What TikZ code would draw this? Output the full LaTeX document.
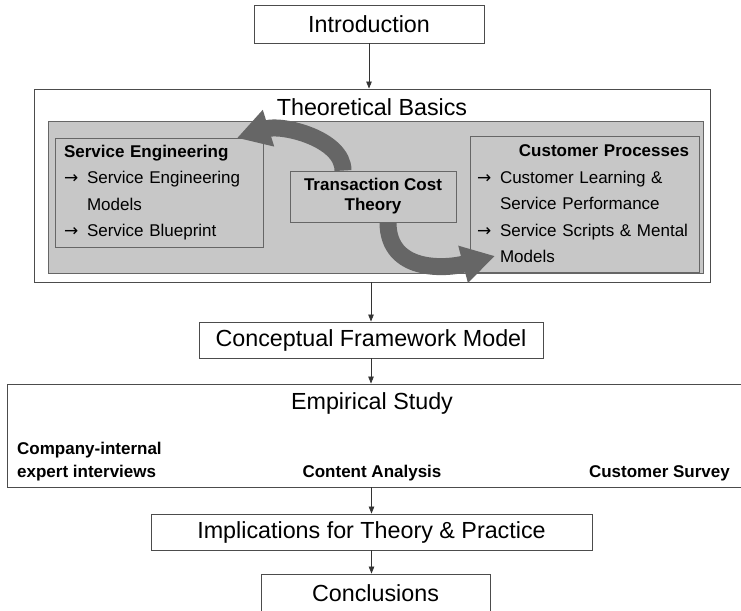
\documentclass[tikz,border=0pt]{standalone}
\usepackage{fontspec}
\setmainfont{Liberation Sans}
\newfontfamily\symfont{DejaVu Sans}
\usetikzlibrary{arrows.meta,positioning,fit}

\newcommand\headsize{\fontsize{23.3}{28}\selectfont}
\newcommand\itemsize{\fontsize{17}{26.5}\selectfont}
\newcommand\ra{\makebox[23pt][l]{\symfont →}}
\newcommand\ind{\hspace*{23pt}}

\tikzset{
     stage/.style = { draw=black!70, line width=0.9pt, fill=white, inner sep=0pt,
                      font=\headsize, align=center },
     panel/.style = { draw=black!60, line width=0.9pt, fill=black!22, inner sep=0pt },
  panelbox/.style = { panel, font=\itemsize, align=left },
     label/.style = { font=\itemsize\bfseries, inner sep=0pt },
      link/.style = { draw=black!80, line width=0.8pt, -{Triangle[length=7pt,width=5.5pt]} },
     swing/.style = { draw=black!60, line width=17pt, -{Triangle[length=33pt,width=36pt]} }
}

\begin{document}
\begin{tikzpicture}[x=1pt, y=-1pt]
  \useasboundingbox (0,0) rectangle (741,610);

  % main stages
  \node[stage, minimum width=230pt, minimum height=38pt] (intro) at (369,24) {Introduction};

  \node[stage, minimum width=676pt, minimum height=193pt] (basics) at (372,185.5) {};
  \node[font=\headsize, inner sep=0pt] (basicstitle) at (372,107) {Theoretical Basics};
  \node[panel, minimum width=655pt, minimum height=152pt] (theory) at (375.5,197) {};

  \node[panelbox, minimum width=208pt, minimum height=109pt, inner xsep=9pt, text width=190pt]
    (engineering) at (159,192.5)
    {\textbf{Service Engineering}\\
     \ra Service Engineering\\
     \ind Models\\
     \ra Service Blueprint};
  \node[panel, minimum width=166pt, minimum height=51pt, align=center,
        font=\fontsize{17}{20}\selectfont\bfseries]
    (transaction) at (373,196.5) {Transaction Cost\\Theory};
  \node[panelbox, minimum width=229pt, minimum height=136pt, inner xsep=7pt, text width=215pt]
    (customer) at (584.5,204)
    {\makebox[\linewidth][r]{\bfseries Customer Processes\hspace{3pt}}\\
     \ra Customer Learning \&\\
     \ind Service Performance\\
     \ra Service Scripts \& Mental\\
     \ind Models};

  \node[stage, minimum width=344pt, minimum height=36pt] (framework) at (371,340) {Conceptual Framework Model};

  \node[stage, minimum width=753pt, minimum height=103pt] (empirical) at (383.5,435.5) {};
  \node[font=\headsize, inner sep=0pt] (empiricaltitle) at (372,403) {Empirical Study};
  \node[label, anchor=west, align=left, font=\fontsize{17}{23}\selectfont\bfseries]
    (interviews) at (17,461.5) {Company-internal\\expert interviews};
  \node[label] (content) at (372,473) {Content Analysis};
  \node[label, anchor=east] (survey) at (730,473) {Customer Survey};

  \node[stage, minimum width=441pt, minimum height=36pt] (implications) at (371.5,532) {Implications for Theory \& Practice};
  \node[stage, minimum width=229pt, minimum height=38pt] (conclusions) at (375.5,593) {Conclusions};

  % flow between the stages
  \draw[link] (intro.south) -- (intro.south |- basics.north);
  \draw[link] (basics.south -| framework.north) -- (framework.north);
  \draw[link] (framework.south) -- (framework.south |- empirical.north);
  \draw[link] (empirical.south -| implications.north) -- (implications.north);
  \draw[link] (implications.south) -- (implications.south |- conclusions.north);

  % curved arrows around the transaction cost box
  \coordinate (upperTip) at (237,138);
  \coordinate (lowerTip) at (495,256);
  \draw[swing] ([xshift=-30pt]transaction.north) .. controls +(0,-32) and +(45,-14) .. (upperTip);
  \draw[swing] ([xshift=15pt]transaction.south) .. controls +(0,50) and +(-50,13) .. (lowerTip);
\end{tikzpicture}
\end{document}
